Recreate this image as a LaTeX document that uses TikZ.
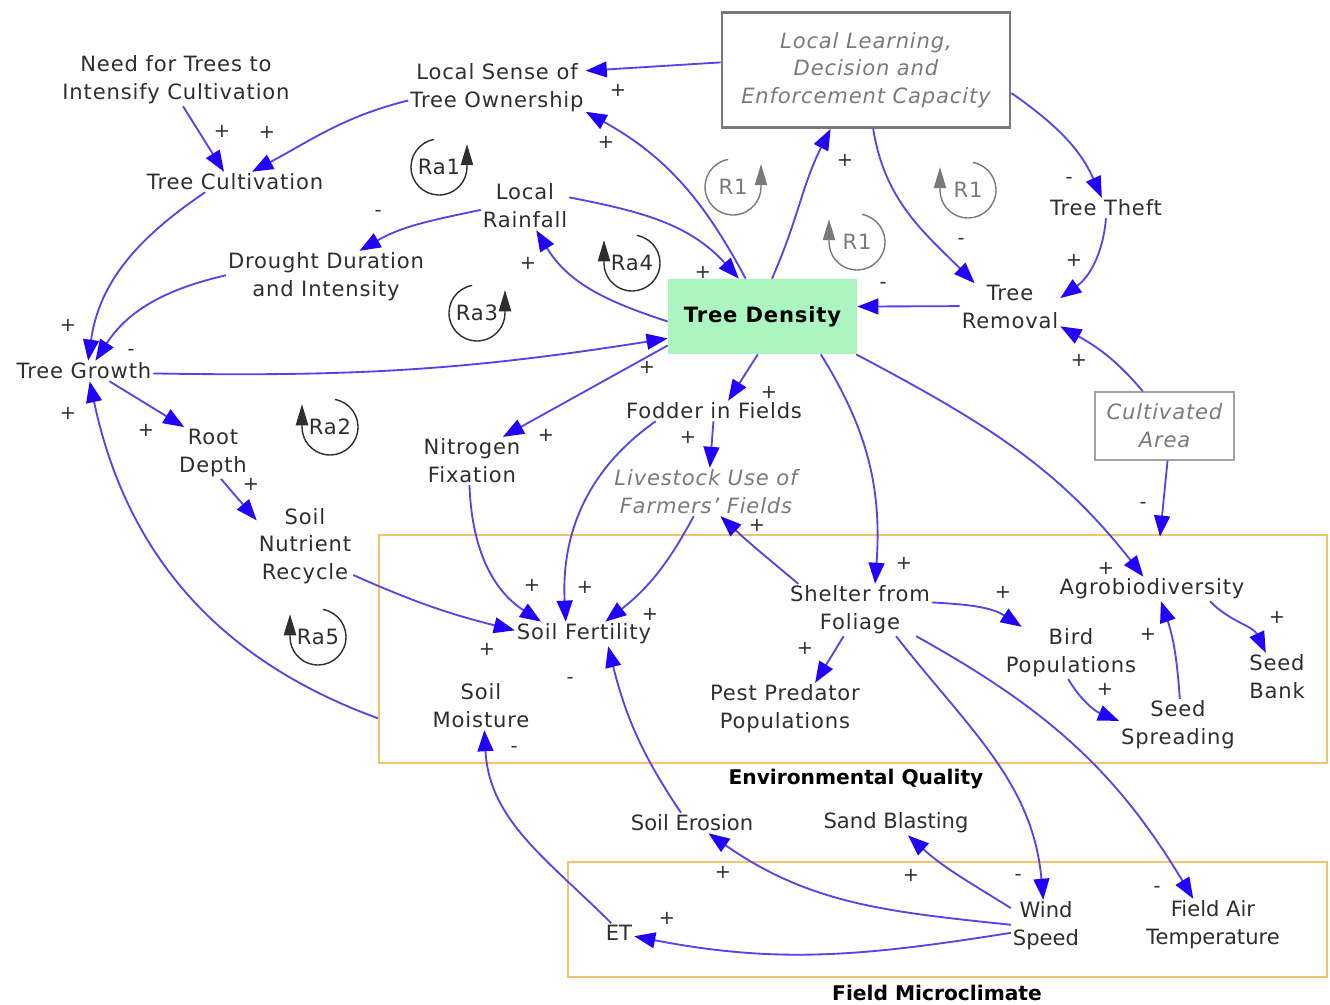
\documentclass[tikz,border=0pt]{standalone}
\usepackage{fontspec}
\setmainfont{DejaVu Sans}[LetterSpace=4]
\newfontfamily\plainfont{DejaVu Sans}
\usetikzlibrary{arrows.meta,calc}
\definecolor{ink}{HTML}{2E2E2E}
\definecolor{mute}{HTML}{7A7A7A}
\definecolor{wire}{HTML}{5544E6}
\definecolor{headc}{HTML}{2200FF}
\definecolor{leaf}{HTML}{AAF5C0}
\definecolor{amber}{HTML}{F2C46D}

\begin{document}
\begin{tikzpicture}[x=0.02cm,y=0.02cm,font=\fontsize{12}{15.8}\selectfont,
  var/.style={text=ink,align=center,inner sep=1pt},
  exo/.style={var,text=mute,execute at begin node=\itshape},
  ctrl/.style={exo,draw=mute,line width=1.6pt,minimum width=5.76cm,minimum height=2.3cm},
  land/.style={exo,draw=mute!70,line width=0.8pt,minimum width=2.78cm,minimum height=1.36cm},
  stock/.style={fill=leaf,text=black,font=\fontsize{12}{14}\selectfont\bfseries,minimum width=3.78cm,minimum height=1.5cm},
  lowvar/.style={var,font=\plainfont\fontsize{12}{15.8}\selectfont},
  zone/.style={draw=amber,line width=1.4pt,inner sep=0pt},
  zonelbl/.style={font=\plainfont\bfseries\fontsize{11.5}{13}\selectfont,text=black},
  link/.style={draw=wire,line width=1.05pt,-{Triangle[length=12pt,width=9pt,color=headc]}},
  sgn/.style={text=ink,inner sep=0pt,font=\plainfont\fontsize{11}{12}\selectfont},
  cyc/.style={inner sep=1pt}]
\useasboundingbox (0,0) rectangle (1330,-1005);

% sector frames
\node[zone,minimum width=18.96cm,minimum height=4.56cm] (envq) at (853,-649) {};
\node[zone,minimum width=15.18cm,minimum height=2.3cm] (micro) at (947.5,-919.5) {};
\node[zonelbl] (envqlbl) at (856,-779) {Environmental Quality};
\node[zonelbl] (microlbl) at (937,-993) {Field Microclimate};

% variables
\node[var] (need) at (176,-80) {Need for Trees to\\Intensify Cultivation};
\node[var] (own) at (497,-88) {Local Sense of\\Tree Ownership};
\node[ctrl] (llc) at (866,-70) {Local Learning,\\Decision and\\Enforcement Capacity};
\node[var] (cult) at (235,-182) {Tree Cultivation};
\node[var] (rain) at (525,-206) {Local\\Rainfall};
\node[var] (drought) at (326,-277) {Drought Duration\\and Intensity};
\node[var] (theft) at (1106,-208) {Tree Theft};
\node[var] (removal) at (1010,-307) {Tree\\Removal};
\node[stock] (density) at (762.5,-316.5) {Tree Density};
\node[var] (growth) at (84,-371) {Tree Growth};
\node[var] (root) at (213,-453) {Root\\Depth};
\node[var] (fodder) at (714,-411) {Fodder in Fields};
\node[var] (nitro) at (472,-461) {Nitrogen\\Fixation};
\node[exo] (livestock) at (706,-492) {Livestock Use of\\Farmers' Fields};
\node[land] (cultarea) at (1164.5,-426) {Cultivated\\Area};
\node[var] (nutrient) at (305,-546) {Soil\\Nutrient\\Recycle};
\node[var] (fert) at (584,-634) {Soil Fertility};
\node[var] (shelter) at (860,-610) {Shelter from\\Foliage};
\node[var] (agro) at (1152,-589) {Agrobiodiversity};
\node[var] (bird) at (1071,-653) {Bird\\Populations};
\node[var] (seedbank) at (1277,-677) {Seed\\Bank};
\node[var] (seedspread) at (1178,-725) {Seed\\Spreading};
\node[var] (pest) at (785,-709) {Pest Predator\\Populations};
\node[var] (moist) at (481,-706) {Soil\\Moisture};
\node[lowvar] (erosion) at (692,-823) {Soil Erosion};
\node[lowvar] (sand) at (896,-823) {Sand Blasting};
\node[lowvar] (et) at (619,-933) {ET};
\node[lowvar] (wind) at (1046,-926) {Wind\\Speed};
\node[lowvar] (temp) at (1213,-925) {Field Air\\Temperature};

% loop markers
\foreach \n/\x/\y/\t/\a/\b/\c in {ra1/439/-167/Ra1/100/360/ink, r1a/733/-187/R1/100/360/mute,
    r1b/968/-190/R1/80/-180/mute, r1c/857/-242/R1/80/-180/mute, ra4/632/-263/Ra4/80/-180/ink,
    ra3/477/-313/Ra3/100/360/ink, ra2/330/-427/Ra2/80/-180/ink, ra5/318/-637/Ra5/80/-180/ink}
{\node[cyc,text=\c] (\n) at (\x,\y) {\t};
 \draw[draw=\c,line width=0.8pt,-{Triangle[length=12pt,width=7pt,color=\c]}]
   (\n.center) ++(\a:0.56cm) arc[start angle=\a,end angle=\b,radius=0.56cm] -- ++(0,13pt);}

% causal links
\draw[link] (llc.177) -- (own.11);
\draw[link] (need.285) -- (cult.137);
\draw[link] (own.188) to[out=194,in=28] (cult.31);
\draw[link] (cult.199) to[out=214,in=82] (growth.68);
\draw[link] (drought.179) to[out=193,in=57] (growth.42);
\draw[link] (rain.185) to[out=192,in=30] (drought.38);
\draw[link] (rain.11) to[out=349,in=132] (density.122);
\draw[link] (density.183) to[out=162,in=301] (rain.295);
\draw[link] (density.114) to[out=118,in=331] (own.345);
\draw[link] (density.76) to[out=66,in=243] (llc.239);
\draw[link] (llc.351) to[out=325,in=114] (theft.112);
\draw[link] (llc.277) to[out=279,in=135] (removal.146);
\draw[link] (theft.270) to[out=265,in=36] (removal.10);
\draw[link] (removal.179) -- (density.6);
\draw[link] (cultarea.122) to[out=130,in=331] (removal.339);
\draw[link] (cultarea.275) -- ([xshift=.16cm,yshift=.8cm]agro.north);
\draw[link] (growth.358) to[out=359,in=189] (density.193);
\draw[link] (density.197) -- (nitro.38);
\draw[link] (density.263) -- (fodder.36);
\draw[link] (density.327) to[out=302,in=86] (shelter.60);
\draw[link] (density.338) to[out=332,in=128] (agro.125);
\draw[link] (growth.338) -- (root.138);
\draw[link] (root.287) -- (nutrient.152);
\draw[link] (nutrient.329) to[out=336,in=166] (fert.177);
\draw[link] (nitro.264) to[out=272,in=147] (fert.164);
\draw[link] (fodder.190) to[out=215,in=93] (fert.146);
\draw[link] (fodder.267) -- (livestock.81);
\draw[link] (livestock.243) to[out=242,in=38] (fert.30);
\draw[link] (shelter.157) to[out=140,in=317] (livestock.301);
\draw[link] (shelter.6) to[out=357,in=147] (bird.152);
\draw[link] (shelter.238) -- (pest.41);
\draw[link] (shelter.324) to[out=308,in=95] (wind.96);
\draw[link] (shelter.335) to[out=331,in=121] (temp.127);
\draw[link] (agro.348) to[out=315,in=115] (seedbank.115);
\draw[link] (bird.264) to[out=301,in=158] (seedspread.176);
\draw[link] (seedspread.86) to[out=94,in=289] (agro.306);
\draw[link] (erosion.137) to[out=124,in=284] (fert.333);
\draw[link] (et.128) to[out=135,in=273] (moist.278);
\draw[link] (wind.178) to[out=174,in=325] (erosion.328);
\draw[link] (wind.153) to[out=148,in=318] (sand.314);
\draw[link] (wind.191) to[out=189,in=349] (et.348);
\draw[link] ([yshift=.92cm]envq.south west) to[out=160,in=282] (growth.299);

% link polarities
\foreach \k/\x/\y/\s in {1/618/90/+, 2/222/131/+, 3/267/132/+, 4/68/325/+, 5/131/352/-,
    6/378/213/-, 7/703/272/+, 8/528/263/+, 9/606/142/+, 10/845/160/+, 11/1069/180/-,
    12/961/241/-, 13/1074/260/+, 14/883/285/-, 15/1079/360/+, 16/1143/505/-, 17/647/367/+,
    18/546/435/+, 19/769/392/+, 20/904/563/+, 21/1106/568/+, 22/146/430/+, 23/251/484/+,
    24/487/649/+, 25/532/585/+, 26/585/587/+, 27/688/437/+, 28/650/614/+, 29/757/525/+,
    30/1003/592/+, 31/805/648/+, 32/1018/877/-, 33/1157/889/-, 34/1277/617/+, 35/1105/689/+,
    36/1148/634/+, 37/570/680/-, 38/514/749/-, 39/723/872/+, 40/911/875/+, 41/667/918/+,
    42/68/413/+}
  \node[sgn] (s\k) at (\x,-\y) {\s};
\end{tikzpicture}
\end{document}
